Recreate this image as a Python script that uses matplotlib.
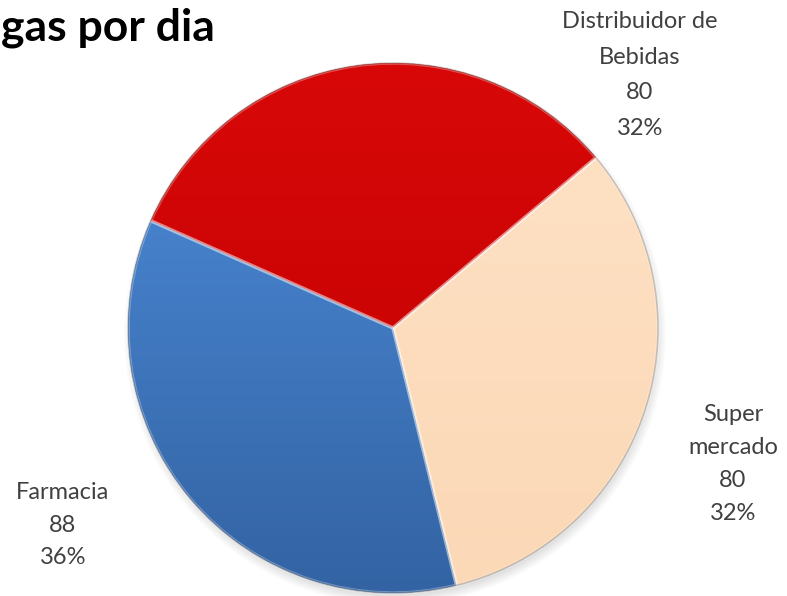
import numpy as np
import matplotlib
matplotlib.use("Agg")
import matplotlib.pyplot as plt
from matplotlib.colors import LinearSegmentedColormap

# data
categories = ["Distribuidor de\nBebidas", "Farmacia", "Super\nmercado"]
values = [80, 88, 80]
percents = [32, 36, 32]
light_colors = ["#D80808", "#4E8EDC", "#FEE2C6"]
dark_colors = ["#C00000", "#3363A3", "#FBD8B6"]
title = "gas por dia"

W, H = 787, 596
fig = plt.figure(figsize=(W / 100, H / 100), dpi=100)
ax = fig.add_axes([0, 0, 1, 1])

cx, cy, r = 393, H - 328, 265

# soft shadow below the pie
for k in range(12):
    c = plt.Circle((cx + 2, cy - 6), r + 6 - k, color="black", alpha=0.012, lw=0)
    ax.add_patch(c)

wedges, _ = ax.pie(values, startangle=40, counterclock=True, radius=r,
                   center=(cx, cy), colors=dark_colors,
                   wedgeprops=dict(linewidth=0))

# vertical gradient inside each slice
yy = np.linspace(0, 1, 256).reshape(-1, 1)
for w, lc, dc in zip(wedges, light_colors, dark_colors):
    cmap = LinearSegmentedColormap.from_list("g", [lc, dc])
    im = ax.imshow(yy, cmap=cmap, extent=(cx - r, cx + r, cy - r, cy + r),
                   origin="upper", aspect="auto", zorder=2)
    im.set_clip_path(w)
    # bevel: light inner edge
    ax.add_patch(matplotlib.patches.Wedge(w.center, w.r, w.theta1, w.theta2,
                 fill=False, ec="white", lw=2.5, alpha=0.3, zorder=3))

ax.add_patch(plt.Circle((cx, cy), r, fill=False, ec="#00000030", lw=1.2, zorder=4))

# labels
lab_pos = [(640, 75), (63, 525), (733, 464)]
lab_spacing = [1.85, 1.65, 1.72]
for cat, v, p, (lx, ly), ls in zip(categories, values, percents, lab_pos, lab_spacing):
    ax.text(lx, H - ly, f"{cat}\n{v}\n{p}%", ha="center", va="center",
            fontsize=17, family="Lato", color="#404040", linespacing=ls,
            zorder=5)

ax.text(1, H - 40, title, ha="left", va="baseline", fontsize=32,
        family="Lato", fontweight="bold", color="black")

ax.set_xlim(0, W)
ax.set_ylim(0, H)
ax.set_aspect("auto")
ax.axis("off")
fig.savefig("out.png", dpi=100)
